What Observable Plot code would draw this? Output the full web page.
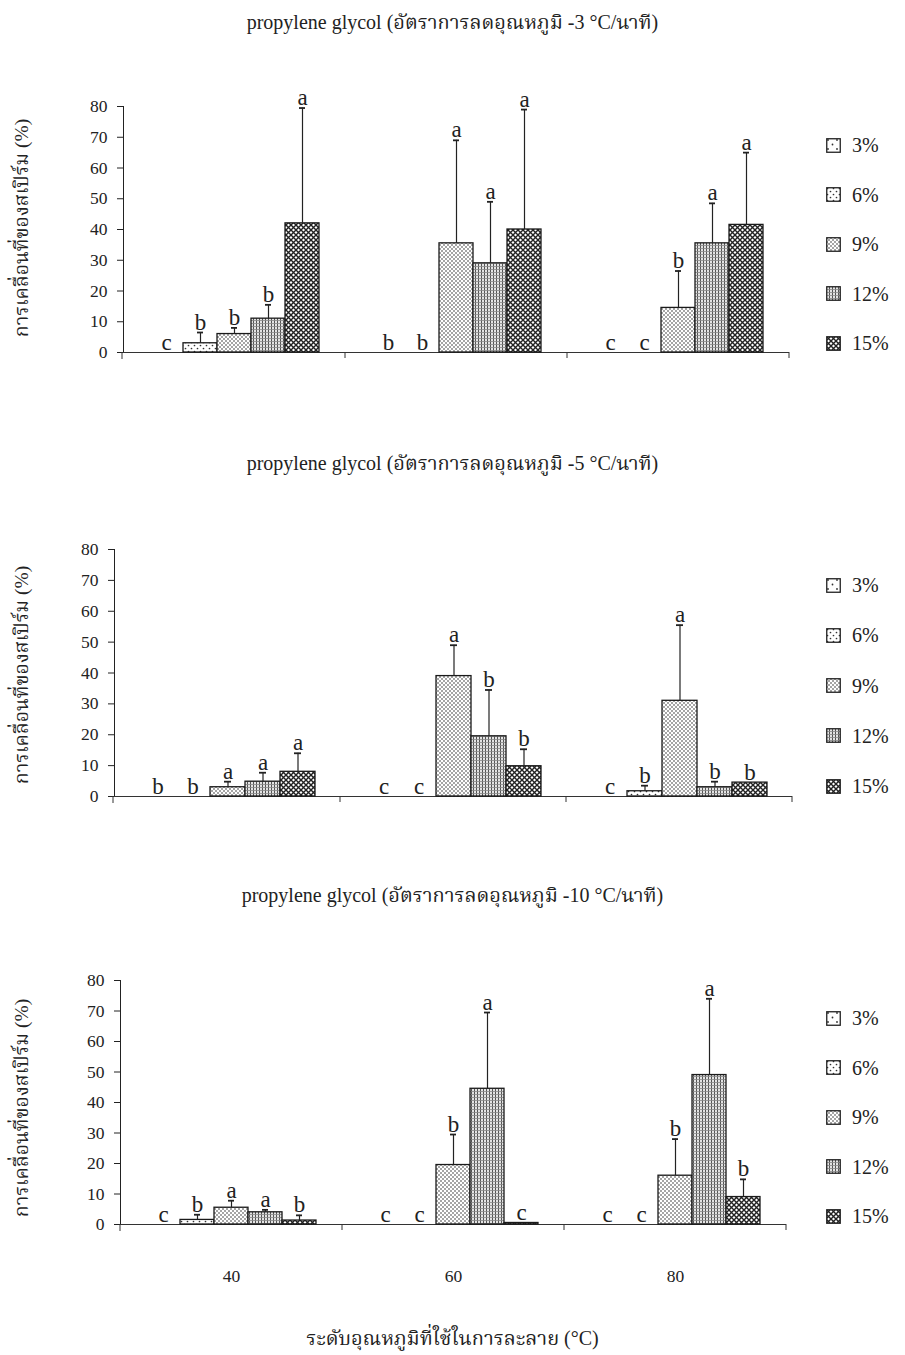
<!DOCTYPE html>
<html><head><meta charset="utf-8">
<script src="https://cdn.jsdelivr.net/npm/d3@7"></script>
<script src="https://cdn.jsdelivr.net/npm/@observablehq/plot@0.6"></script>
<style>
body{margin:0;background:#fff;width:905px;height:1355px;position:relative;overflow:hidden;
 font-family:"Liberation Serif","Noto Serif Thai","Noto Sans Thai",serif;color:#222}
.title{position:absolute;left:0;width:905px;text-align:center;font-size:20px;line-height:24px}
.panel{position:absolute;left:0}
.ylab{position:absolute;left:22px;width:0;height:0}
.ylab span{position:absolute;left:0;top:0;transform:translate(-50%,-50%) rotate(-90deg);white-space:nowrap;font-size:19.5px;line-height:22px}
.item{position:absolute;left:826px;display:flex;align-items:center;white-space:nowrap;font-size:20px;line-height:22px}
.item svg{margin-right:11px}
</style></head><body>
<svg width="0" height="0" style="position:absolute;left:0;top:0">
 <defs>
  <pattern id="p3" patternUnits="userSpaceOnUse" width="9" height="9">
   <rect width="9" height="9" fill="#fff"/><circle cx="2" cy="2" r="0.9" fill="#333"/><circle cx="6.5" cy="6.5" r="0.9" fill="#333"/>
  </pattern>
  <pattern id="p6" patternUnits="userSpaceOnUse" width="6" height="6">
   <rect width="6" height="6" fill="#fff"/><circle cx="1.5" cy="1.5" r="0.85" fill="#333"/><circle cx="4.5" cy="4.5" r="0.85" fill="#333"/>
  </pattern>
  <pattern id="p9" patternUnits="userSpaceOnUse" width="4" height="4">
   <rect width="4" height="4" fill="#fff"/><circle cx="1" cy="1" r="0.8" fill="#333"/><circle cx="3" cy="3" r="0.8" fill="#333"/>
  </pattern>
  <pattern id="p12" patternUnits="userSpaceOnUse" width="3" height="3">
   <rect width="3" height="3" fill="#e4e4e4"/><rect width="1" height="3" fill="#555"/><rect width="3" height="0.8" fill="#888"/>
  </pattern>
  <pattern id="p15" patternUnits="userSpaceOnUse" width="5" height="5">
   <rect width="5" height="5" fill="#fff"/><path d="M0,0L5,5M5,0L0,5" stroke="#222" stroke-width="1.4"/>
  </pattern>
 </defs>
</svg>
<div id="root"></div>
<script>
// ---------- data ----------
const temps = [40, 60, 80];
const concs = ["3%", "6%", "9%", "12%", "15%"];
const yTicks = [0, 10, 20, 30, 40, 50, 60, 70, 80];
const panelTitles = [
  "propylene glycol (อัตราการลดอุณหภูมิ -3 °C/นาที)",
  "propylene glycol (อัตราการลดอุณหภูมิ -5 °C/นาที)",
  "propylene glycol (อัตราการลดอุณหภูมิ -10 °C/นาที)"
];
const yLabel = "การเคลื่อนที่ของสเปิร์ม (%)";
const xLabel = "ระดับอุณหภูมิที่ใช้ในการละลาย (°C)";

// rate -3 °C/min : rows = 40, 60, 80 ; columns = 3%..15%
const mean3 = [[0, 3, 6, 11, 42], [0, 0, 35.5, 29, 40], [0, 0, 14.5, 35.5, 41.5]];
const err3  = [[null, 6.5, 8, 15.5, 79.5], [null, null, 69, 49, 79], [null, null, 26.5, 48.5, 65]];
const let3  = [["c","b","b","b","a"], ["b","b","a","a","a"], ["c","c","b","a","a"]];

// rate -5 °C/min
const mean5 = [[0, 0, 3, 4.8, 8], [0, 0, 39, 19.5, 9.8], [0, 1.7, 31, 3, 4.5]];
const err5  = [[null, null, 4.8, 7.7, 14], [null, null, 49, 34.5, 15.3], [null, 3.5, 55.5, 4.8, null]];
const let5  = [["b","b","a","a","a"], ["c","c","a","b","b"], ["c","b","a","b","b"]];

// rate -10 °C/min
const mean10 = [[0, 1.5, 5.5, 4, 1.3], [0, 0, 19.5, 44.5, 0.5], [0, 0, 16, 49, 9]];
const err10  = [[null, 3.2, 7.8, 4.8, 3], [null, null, 29.5, 69.5, null], [null, null, 28, 74, 14.8]];
const let10  = [["c","b","a","a","b"], ["c","c","b","a","c"], ["c","c","b","a","b"]];

const patterns = ["url(#p3)", "url(#p6)", "url(#p9)", "url(#p12)", "url(#p15)"];
const FONT = '"Liberation Serif","Noto Serif Thai","Noto Sans Thai",serif';

const panels = [
  {mean: mean3, err: err3, lets: let3, title: panelTitles[0], titleY: 10, top: 80, height: 300,
   mt: 26, mb: 28, ml: 122, mr: 115, labelY: 228, legendY: 145, legendStep: 49.5, fx: false},
  {mean: mean5, err: err5, lets: let5, title: panelTitles[1], titleY: 451, top: 520, height: 300,
   mt: 29, mb: 24, ml: 113, mr: 112, labelY: 675, legendY: 585, legendStep: 50.3, fx: false},
  {mean: mean10, err: err10, lets: let10, title: panelTitles[2], titleY: 883, top: 950, height: 344,
   mt: 30, mb: 70, ml: 120, mr: 119, labelY: 1108, legendY: 1018, legendStep: 49.5, fx: true}
];

const root = document.getElementById("root");

function buildRows(m, e, l) {
  return temps.flatMap((t, i) => concs.map((c, j) => ({temp: t, conc: c, mean: m[i][j], err: e[i][j], letter: l[i][j]})));
}

panels.forEach(p => {
  const t = document.createElement("div");
  t.className = "title"; t.style.top = p.titleY + "px"; t.textContent = p.title;
  root.appendChild(t);

  const yl = document.createElement("div");
  yl.className = "ylab"; yl.style.top = p.labelY + "px";
  yl.innerHTML = `<span>${yLabel}</span>`;
  root.appendChild(yl);

  const data = buildRows(p.mean, p.err, p.lets);
  const withErr = data.filter(d => d.err != null);

  const plot = Plot.plot({
    width: 905, height: p.height,
    marginLeft: p.ml, marginRight: p.mr, marginTop: p.mt, marginBottom: p.mb,
    style: {fontFamily: FONT, fontSize: "17.5px", color: "#222", background: "transparent", overflow: "visible"},
    fx: {domain: temps, padding: 0, axis: p.fx ? "bottom" : null, tickSize: 0, tickPadding: 45, label: null},
    x: {domain: concs, paddingInner: 0, paddingOuter: 0.72, axis: null},
    y: {domain: [0, 80], ticks: yTicks, tickSize: 6, tickPadding: 10, line: true, label: null},
    color: {type: "ordinal", domain: concs, range: patterns},
    marks: [
      Plot.ruleY([0], {stroke: "#333", strokeWidth: 1}),
      Plot.barY(data, {fx: "temp", x: "conc", y: "mean", fill: "conc", stroke: "#1a1a1a", strokeWidth: 1.3}),
      Plot.ruleX(withErr, {fx: "temp", x: "conc", y1: "mean", y2: "err", stroke: "#222", strokeWidth: 1.2}),
      Plot.tickY(withErr, {fx: "temp", x: "conc", y: "err", stroke: "#222", strokeWidth: 1.8, insetLeft: 14, insetRight: 14}),
      Plot.text(data, {fx: "temp", x: "conc", y: d => d.err ?? d.mean, text: "letter",
        lineAnchor: "bottom", dy: -3, fontSize: 23, fill: "#222"})
    ]
  });

  // category-boundary tick marks on the x axis, and the y-axis stub below 0
  const fxS = plot.scale("fx"), yS = plot.scale("y");
  const y0 = yS.apply(0);
  const svg = d3.select(plot);
  temps.forEach(v => {
    const xb = fxS.apply(v) + fxS.bandwidth;
    svg.append("line").attr("x1", xb).attr("x2", xb).attr("y1", y0).attr("y2", y0 + 6)
      .attr("stroke", "#333").attr("stroke-width", 1);
  });
  svg.append("line").attr("x1", p.ml).attr("x2", p.ml).attr("y1", y0).attr("y2", y0 + 7)
    .attr("stroke", "#333").attr("stroke-width", 1);

  const wrap = document.createElement("div");
  wrap.className = "panel"; wrap.style.top = p.top + "px";
  wrap.appendChild(plot);
  root.appendChild(wrap);

  // legend
  concs.forEach((c, i) => {
    const it = document.createElement("div");
    it.className = "item";
    it.style.top = (p.legendY + i * p.legendStep - 11) + "px";
    it.innerHTML = `<svg width="15" height="15"><rect x="0.75" y="0.75" width="13.5" height="13.5" fill="${patterns[i]}" stroke="#222" stroke-width="1.3"/></svg><span>${c}</span>`;
    root.appendChild(it);
  });
});

const xt = document.createElement("div");
xt.className = "title"; xt.style.top = "1326px"; xt.textContent = xLabel;
root.appendChild(xt);
</script>
</body></html>
